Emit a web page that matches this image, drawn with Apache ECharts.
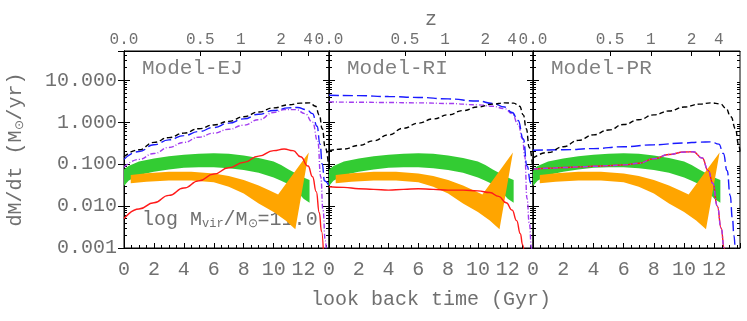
<!DOCTYPE html>
<html>
<head>
<meta charset="utf-8">
<script src="https://cdn.jsdelivr.net/npm/echarts@6/dist/echarts.min.js"></script>
<style>
html, body { margin: 0; padding: 0; background: #fff; }
#main { width: 747px; height: 321px; }
</style>
</head>
<body>
<div id="main"></div>
<script>
// redshift ticks of the top axis, placed at their look back time (Gyr)
var zTickTime = [0, 5.1, 7.8, 10.5, 12.3];
var zTickText = ['0.0', '0.5', '1', '2', '4'];
var modelNames = ['Model-EJ', 'Model-RI', 'Model-PR'];

// observed bands, the same in every panel: [look back time, dM/dt]
var greenTop = [[0, 0.075], [0.3, 0.09], [1, 0.115], [2, 0.137], [3, 0.155], [4, 0.168], [5, 0.178], [6, 0.183],
    [7, 0.178], [8, 0.16], [9, 0.14], [10, 0.115], [10.5, 0.095], [11, 0.075], [11.5, 0.06], [12, 0.048], [12.4, 0.042]];
var greenBottom = [[0, 0.03], [0.3, 0.04], [1, 0.055], [2, 0.066], [3, 0.075], [4, 0.082], [5, 0.084], [6, 0.084],
    [7, 0.08], [8, 0.073], [9, 0.062], [10, 0.048], [10.5, 0.04], [11, 0.033], [11.5, 0.024], [12, 0.015], [12.4, 0.012]];
var orangeTop = [[0.45, 0.055], [1.5, 0.061], [3, 0.066], [4.5, 0.066], [6, 0.06], [7, 0.052], [8, 0.042], [9, 0.031],
    [9.7, 0.024], [10.3, 0.019], [12.35, 0.19]];
var orangeBottom = [[0.45, 0.035], [1.5, 0.038], [3, 0.041], [4.5, 0.041], [6, 0.037], [7, 0.029], [8, 0.02], [9, 0.0115],
    [10, 0.0072], [10.8, 0.0045], [11.45, 0.0028], [12.35, 0.19]];

// Model-EJ
var ejBlack = [[0, 0.15], [1, 0.22], [2, 0.33], [3, 0.43], [4, 0.55], [5, 0.7], [6, 0.86], [7, 1.05], [8, 1.35], [9, 1.75],
    [10, 2.2], [11, 2.6], [11.8, 2.85], [12.4, 2.9], [12.8, 2.4], [13.05, 1.5], [13.25, 0.7], [13.45, 0.25], [13.7, 0.07]];
var ejBlue = [[0, 0.13], [1, 0.2], [2, 0.29], [3, 0.38], [4, 0.48], [5, 0.6], [6, 0.75], [7, 0.95], [8, 1.2], [9, 1.55],
    [10, 1.9], [11, 2.2], [11.6, 2.25], [12.2, 2.0], [12.6, 1.6], [12.9, 0.8], [13.1, 0.3], [13.25, 0.1], [13.4, 0.04], [13.7, 0.03]];
var ejPurple = [[0, 0.085], [1, 0.13], [2, 0.18], [3, 0.25], [4, 0.33], [5, 0.44], [6, 0.55], [7, 0.68], [8, 0.85], [9, 1.15],
    [10, 1.7], [10.7, 2.0], [11.5, 2.0], [12.1, 1.6], [12.6, 1.0], [12.95, 0.35], [13.15, 0.05], [13.3, 0.008], [13.45, 0.0015], [13.55, 0.0005]];
var ejRed = [[0, 0.005], [1, 0.0085], [2, 0.012], [3, 0.018], [4, 0.027], [5, 0.04], [6, 0.058], [7, 0.082], [8, 0.11], [9, 0.155],
    [10, 0.21], [10.7, 0.23], [11.3, 0.21], [11.8, 0.15], [12.3, 0.09], [12.6, 0.05], [12.85, 0.022], [13.05, 0.007], [13.2, 0.0025], [13.35, 0.0005]];

// Model-RI
var riBlack = [[0, 0.21], [1, 0.23], [2, 0.28], [3, 0.36], [4, 0.5], [5, 0.72], [6, 0.95], [7, 1.2], [8, 1.5], [9, 1.9],
    [10, 2.3], [11, 2.7], [11.8, 2.9], [12.4, 2.85], [12.8, 2.4], [13.05, 1.5], [13.25, 0.7], [13.45, 0.25], [13.7, 0.07]];
var riBlue = [[0, 4.4], [2, 4.3], [4, 4.1], [6, 3.9], [8, 3.6], [10, 3.2], [11, 2.8], [11.8, 2.3], [12.3, 1.7], [12.7, 1.1],
    [13.05, 0.4], [13.3, 0.09], [13.55, 0.035], [13.7, 0.03]];
var riPurple = [[0, 3.05], [2, 3.0], [4, 2.95], [6, 2.9], [8, 2.8], [10, 2.6], [11, 2.4], [11.8, 2.1], [12.3, 1.6], [12.7, 0.9],
    [13.0, 0.4], [13.15, 0.15], [13.3, 0.015], [13.45, 0.004], [13.6, 0.001], [13.65, 0.0005]];
var riRed = [[0, 0.029], [1, 0.028], [2, 0.026], [3, 0.025], [4, 0.024], [5, 0.025], [6, 0.026], [7, 0.025], [8, 0.024], [9, 0.024],
    [10, 0.023], [10.8, 0.021], [11.4, 0.017], [11.9, 0.012], [12.3, 0.008], [12.6, 0.0045], [12.85, 0.0022], [13.0, 0.0012], [13.15, 0.0005]];

// Model-PR
var prBlack = [[0, 0.14], [1, 0.19], [2, 0.26], [3, 0.37], [4, 0.5], [5, 0.65], [6, 0.88], [7, 1.15], [8, 1.5], [9, 1.85],
    [10, 2.3], [11, 2.7], [11.8, 2.9], [12.4, 2.75], [12.75, 2.2], [13.1, 1.35], [13.4, 0.7], [13.6, 0.3], [13.7, 0.2]];
var prBlue = [[0, 0.215], [2, 0.22], [4, 0.235], [6, 0.26], [8, 0.29], [10, 0.32], [11, 0.335], [11.8, 0.34], [12.3, 0.3],
    [12.6, 0.18], [12.85, 0.07], [13.05, 0.018], [13.2, 0.005], [13.3, 0.002], [13.4, 0.0005]];
var prPurple = [[0, 0.075], [1, 0.08], [2, 0.083], [3, 0.086], [4, 0.089], [5, 0.092], [6, 0.096], [7, 0.105], [8, 0.135], [9, 0.17],
    [10, 0.195], [10.6, 0.197], [11.2, 0.14], [11.6, 0.07], [11.9, 0.035], [12.2, 0.01], [12.45, 0.003], [12.65, 0.001], [12.75, 0.0005]];
var prRed = [[0, 0.075], [1, 0.08], [2, 0.083], [3, 0.086], [4, 0.089], [5, 0.092], [6, 0.096], [7, 0.105], [8, 0.135], [9, 0.17],
    [10, 0.195], [10.6, 0.197], [11.2, 0.14], [11.6, 0.07], [11.9, 0.035], [12.2, 0.01], [12.45, 0.003], [12.65, 0.001], [12.75, 0.0005]];

var panels = [
    {black: ejBlack, blue: ejBlue, purple: ejPurple, red: ejRed},
    {black: riBlack, blue: riBlue, purple: riPurple, red: riRed},
    {black: prBlack, blue: prBlue, purple: prPurple, red: prRed}
];

var FONT = 'Liberation Mono';
var TXT = '#707070';
var Y_MIN = 0.001, Y_MAX = 50;
var gridBoxes = [{left: 124, width: 205}, {left: 329, width: 204}, {left: 533, width: 207}];

// log minor ticks 2..9 of each decade, given in log10 for a plain ruler axis
var minorTicks = [];
for (var d = -3; d <= 1; d++) {
    for (var m = 2; m <= 9; m++) {
        if (m * Math.pow(10, d) < Y_MAX) minorTicks.push(Math.log10(m) + d);
    }
}

function bandSeries(i, top, bottom, color, z) {
    var poly = top.concat(bottom.slice().reverse());
    return {
        type: 'custom',
        xAxisIndex: 2 * i,
        yAxisIndex: 4 * i,
        z: z,
        silent: true,
        data: poly,
        encode: {x: 0, y: 1},
        renderItem: function (params, api) {
            if (params.dataIndex !== 0) return null;
            var pts = [];
            for (var k = 0; k < poly.length; k++) {
                pts.push(api.coord(poly[k]));
            }
            return {type: 'polygon', shape: {points: pts}, style: {fill: color, stroke: null}};
        }
    };
}

function lineSeries(i, data, color, dash, z) {
    return {
        type: 'line',
        xAxisIndex: 2 * i,
        yAxisIndex: 4 * i,
        data: data,
        symbol: 'none',
        smooth: 0.5,
        smoothMonotone: 'x',
        clip: true,
        z: z,
        silent: true,
        lineStyle: {color: color, width: 1.4, type: dash}
    };
}

var grid = [], xAxis = [], yAxis = [], series = [], graphic = [];

for (var i = 0; i < 3; i++) {
    grid.push({left: gridBoxes[i].left, width: gridBoxes[i].width, top: 51, height: 197,
        show: true, borderColor: '#000', borderWidth: 1});

    // bottom: look back time
    xAxis.push({
        type: 'value', gridIndex: i, position: 'bottom', min: 0, max: 13.7, interval: 2,
        axisLine: {show: true, onZero: false, lineStyle: {color: '#000', width: 1}},
        axisTick: {show: true, inside: true, length: 5, lineStyle: {color: '#000'}},
        minorTick: {show: true, splitNumber: 4, length: 3, lineStyle: {color: '#000'}},
        splitLine: {show: false},
        axisLabel: {showMaxLabel: false, margin: 12, fontFamily: FONT, fontSize: 20, color: TXT},
        name: i === 1 ? 'look back time (Gyr)' : '',
        nameLocation: 'middle', nameGap: 42,
        nameTextStyle: {fontFamily: FONT, fontSize: 20, color: TXT}
    });
    // top: redshift
    xAxis.push({
        type: 'value', gridIndex: i, position: 'top', min: 0, max: 13.7,
        axisLine: {show: true, onZero: false, lineStyle: {color: '#000', width: 1}},
        axisTick: {show: true, inside: true, length: 5, customValues: zTickTime, lineStyle: {color: '#000'}},
        splitLine: {show: false},
        axisLabel: {
            customValues: zTickTime, margin: 3, fontFamily: FONT, fontSize: 16, color: TXT,
            formatter: function (v) {
                var best = 0;
                for (var k = 1; k < zTickTime.length; k++) {
                    if (Math.abs(zTickTime[k] - v) < Math.abs(zTickTime[best] - v)) best = k;
                }
                return zTickText[best];
            }
        }
    });

    // main log axes (left, right)
    ['left', 'right'].forEach(function (side) {
        var labelled = i === 0 && side === 'left';
        yAxis.push({
            type: 'log', logBase: 10, gridIndex: i, position: side, min: Y_MIN, max: Y_MAX,
            axisLine: {show: true, lineStyle: {color: '#000', width: 1}},
            axisTick: {show: true, inside: true, length: 6, lineStyle: {color: '#000'}},
            splitLine: {show: false},
            axisLabel: {
                show: labelled, showMaxLabel: false, margin: 7,
                fontFamily: FONT, fontSize: 20, color: TXT,
                formatter: function (v) { return v.toFixed(3); }
            },
            name: labelled ? 'dM/dt (M{s|⊙}/yr)' : '',
            nameLocation: 'middle', nameGap: 98,
            nameTextStyle: {fontFamily: FONT, fontSize: 20, color: TXT,
                rich: {s: {fontFamily: FONT, fontSize: 12, color: TXT, verticalAlign: 'bottom'}}}
        });
    });
    // minor tick rulers (left, right)
    ['left', 'right'].forEach(function (side) {
        yAxis.push({
            type: 'value', gridIndex: i, position: side, min: Math.log10(Y_MIN), max: Math.log10(Y_MAX),
            axisLine: {show: false},
            axisTick: {show: true, inside: true, length: 3, customValues: minorTicks, lineStyle: {color: '#000'}},
            axisLabel: {show: false},
            splitLine: {show: false}
        });
    });

    var p = panels[i];
    series.push(bandSeries(i, greenTop, greenBottom, '#33cc33', 2));
    series.push(bandSeries(i, orangeTop, orangeBottom, '#ffa500', 3));
    series.push(lineSeries(i, p.red, '#ff1a1a', 'solid', 5));
    series.push(lineSeries(i, p.purple, '#a23cf0', [5, 2, 1, 2], 6));
    series.push(lineSeries(i, p.blue, '#1a1aff', [10, 4], 7));
    series.push(lineSeries(i, p.black, '#000', [5, 3], 8));

    graphic.push({
        type: 'text', x: gridBoxes[i].left + 18, y: 68, silent: true,
        style: {text: modelNames[i], fontFamily: FONT, fontSize: 21, fill: '#808080', verticalAlign: 'middle'}
    });
}

// redshift axis title, over the middle panel
graphic.push({
    type: 'text', x: gridBoxes[1].left + gridBoxes[1].width / 2, y: 20, silent: true,
    style: {text: 'z', fontFamily: FONT, fontSize: 20, fill: TXT, align: 'center', verticalAlign: 'middle'}
});

graphic.push({
    type: 'text', x: 142, y: 220, silent: true,
    style: {
        text: 'log M{s|vir}/M{s|⊙}=11.0', fontFamily: FONT, fontSize: 20, fill: TXT, verticalAlign: 'middle',
        rich: {s: {fontFamily: FONT, fontSize: 12, fill: TXT, verticalAlign: 'bottom'}}
    }
});

var myChart = echarts.init(document.getElementById('main'), null, {width: 747, height: 321});
myChart.setOption({
    animation: false,
    backgroundColor: '#fff',
    grid: grid,
    xAxis: xAxis,
    yAxis: yAxis,
    series: series,
    graphic: graphic
});
</script>
</body>
</html>
